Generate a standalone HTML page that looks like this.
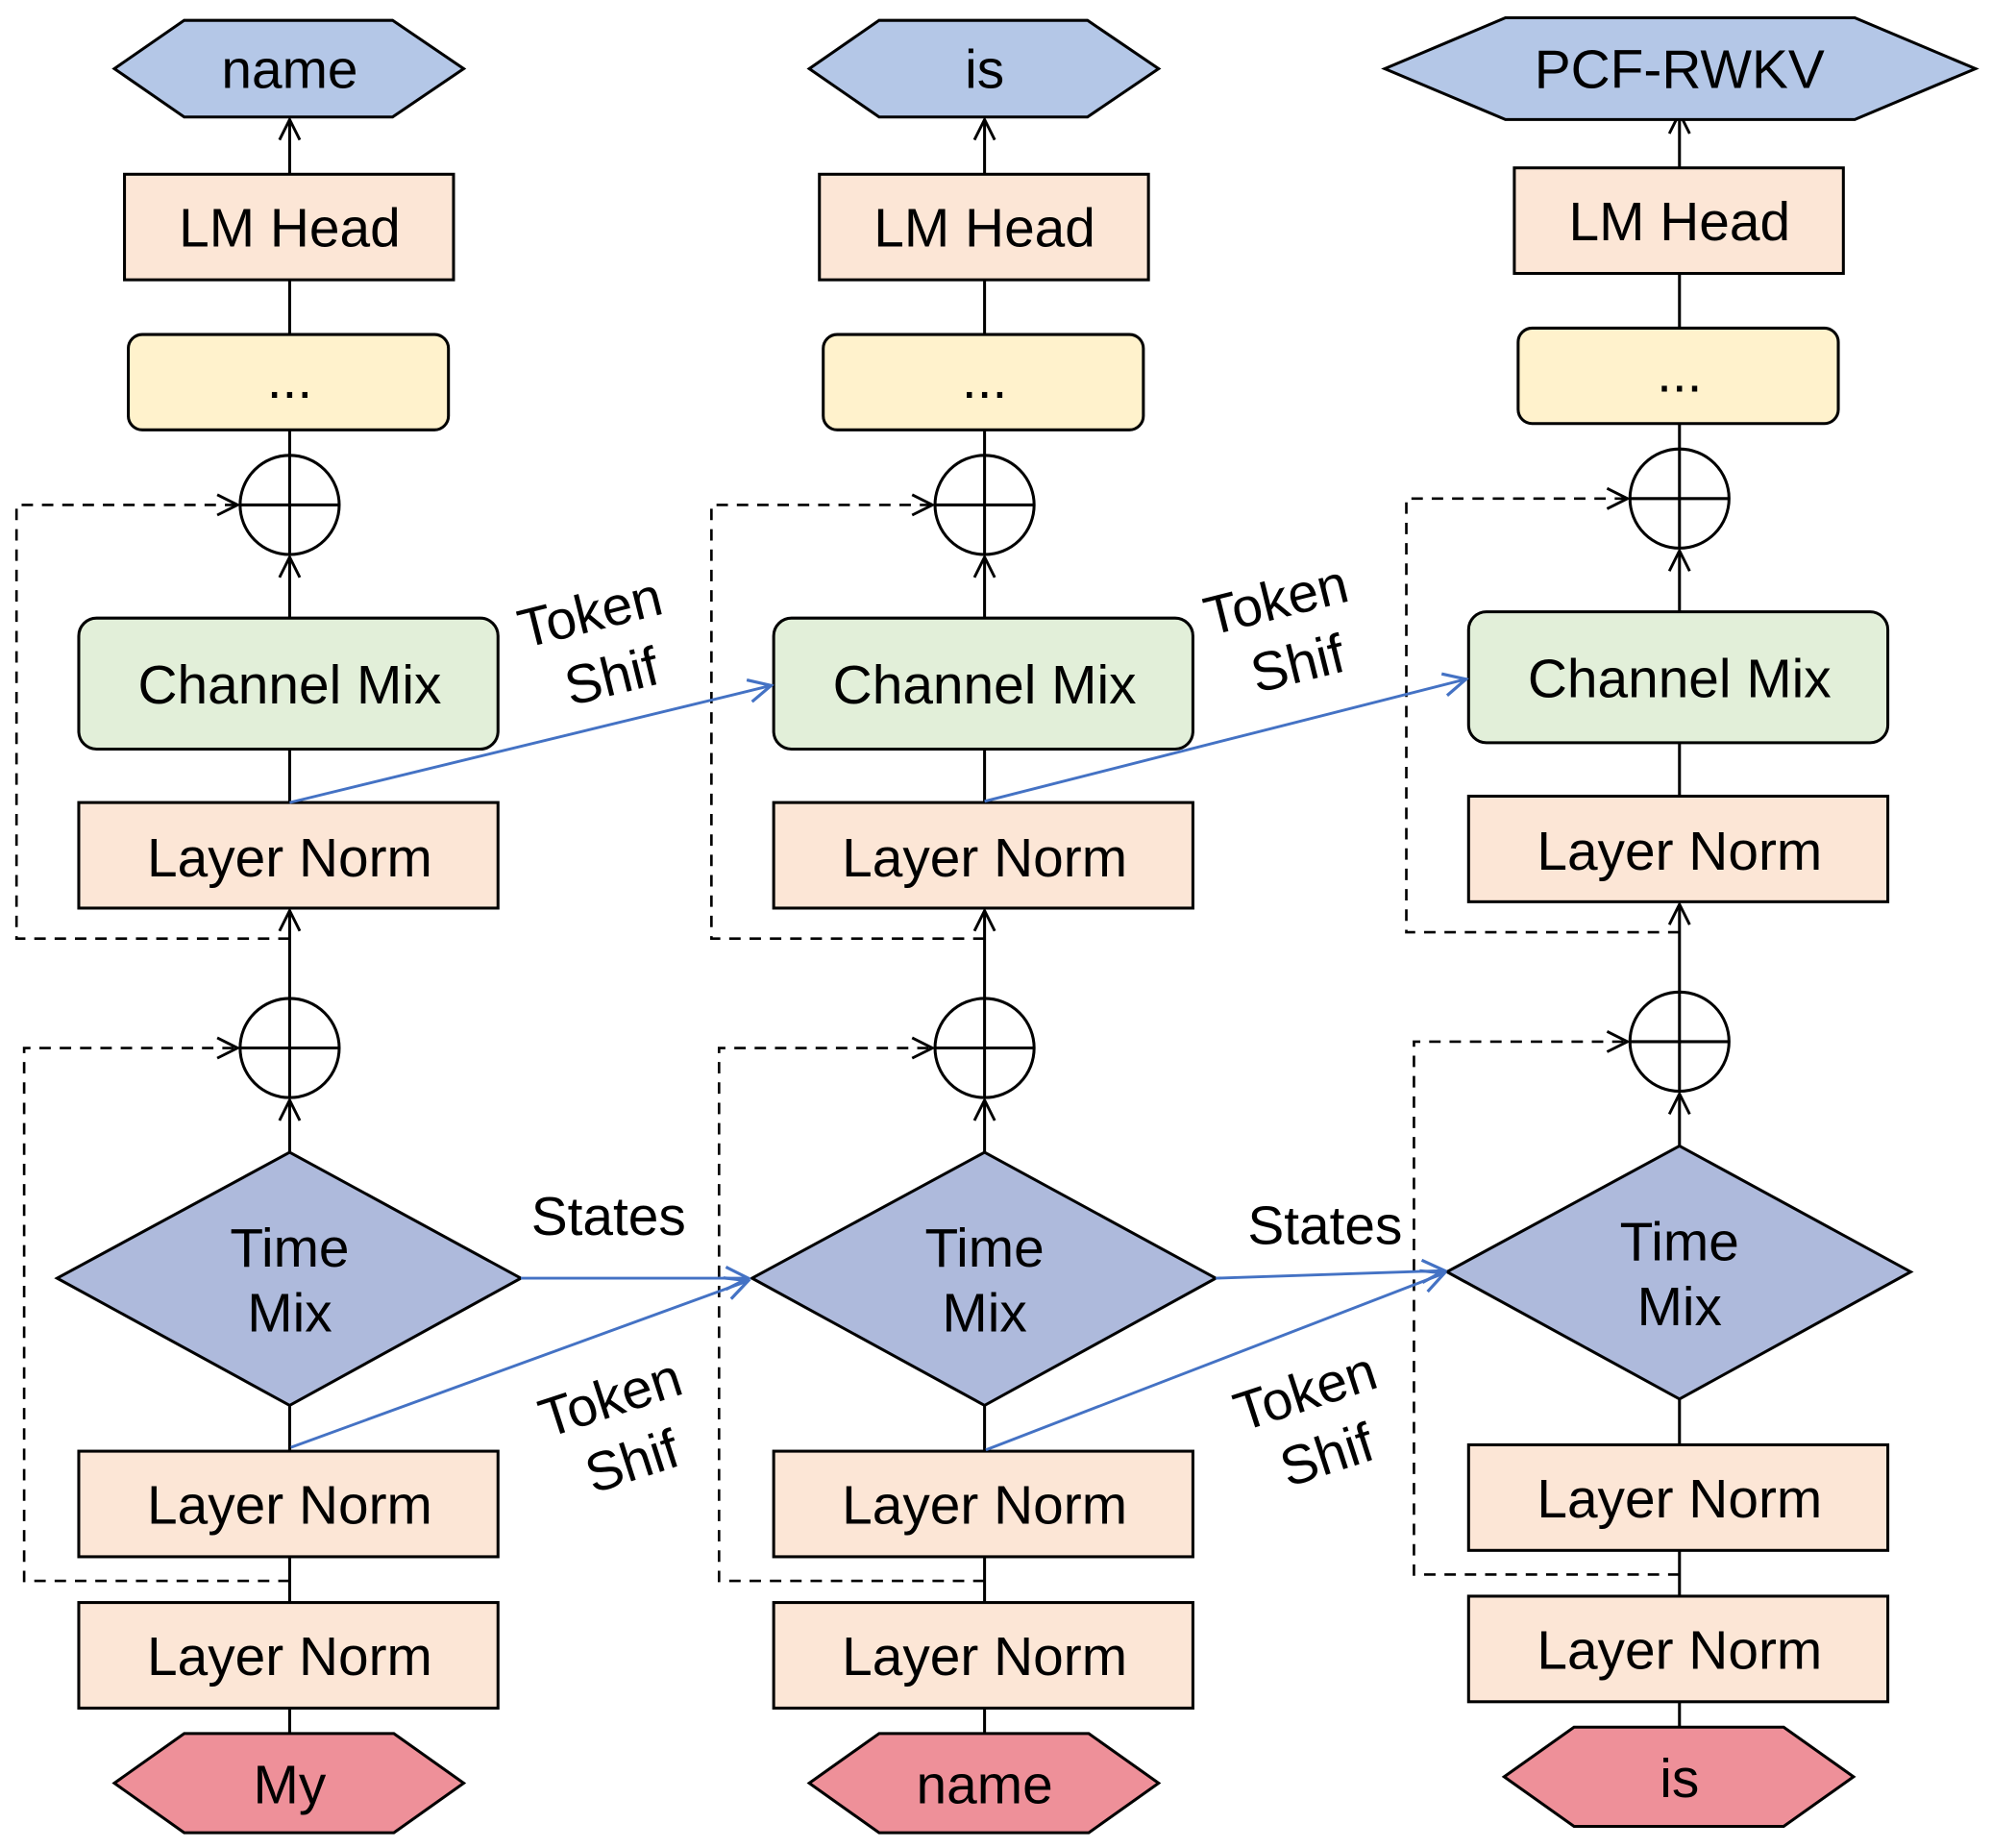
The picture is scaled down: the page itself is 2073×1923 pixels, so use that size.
<!DOCTYPE html>
<html><head><meta charset="utf-8"><style>
html,body{margin:0;padding:0;background:#fff;}
svg{display:block;}
text{font-family:"Liberation Sans",Arial,sans-serif;fill:#000;}
</style></head><body>
<svg width="2073" height="1923" viewBox="0 0 1568 1453" preserveAspectRatio="none" xmlns="http://www.w3.org/2000/svg">
<defs>
<marker id="a" viewBox="0 0 20 20" refX="18" refY="10" markerWidth="20" markerHeight="20" markerUnits="userSpaceOnUse" orient="auto">
<path d="M2,2 L18,10 L2,18" fill="none" stroke="#000" stroke-width="2.2"/></marker>
<marker id="b" viewBox="0 0 20 20" refX="18" refY="10" markerWidth="22" markerHeight="22" markerUnits="userSpaceOnUse" orient="auto">
<path d="M2,2 L18,10 L2,18" fill="none" stroke="#4472c4" stroke-width="2.2"/></marker>
<g id="col" stroke="#000" stroke-width="2.3">
<line x1="0" y1="137" x2="0" y2="94" marker-end="url(#a)"/>
<rect x="-130" y="137" width="259" height="83" fill="#fce6d6"/>
<line x1="0" y1="220" x2="0" y2="263"/>
<rect x="-127" y="263" width="252" height="75" rx="11" fill="#fff2cc"/>
<line x1="0" y1="338" x2="0" y2="436"/>
<circle cx="0" cy="397" r="39" fill="none"/>
<line x1="-39" y1="397" x2="39" y2="397"/>
<line x1="0" y1="486" x2="0" y2="438" marker-end="url(#a)"/>
<rect x="-166" y="486" width="330" height="103" rx="14" fill="#e2efd9"/>
<line x1="0" y1="589" x2="0" y2="631"/>
<rect x="-166" y="631" width="330" height="83" fill="#fce6d6"/>
<line x1="0" y1="785" x2="0" y2="716" marker-end="url(#a)"/>
<circle cx="0" cy="824" r="39" fill="none"/>
<line x1="0" y1="785" x2="0" y2="863"/>
<line x1="-39" y1="824" x2="39" y2="824"/>
<line x1="0" y1="906" x2="0" y2="865" marker-end="url(#a)"/>
<polygon points="-183,1005 0,906 182,1005 0,1105" fill="#aebadc"/>
<line x1="0" y1="1105" x2="0" y2="1141"/>
<rect x="-166" y="1141" width="330" height="83" fill="#fce6d6"/>
<line x1="0" y1="1224" x2="0" y2="1260"/>
<rect x="-166" y="1260" width="330" height="83" fill="#fce6d6"/>
<line x1="0" y1="1343" x2="0" y2="1363"/>
<g stroke-dasharray="9,7" fill="none" stroke-width="2">
<polyline points="0,738 -215,738 -215,397 -41,397" marker-end="url(#a)"/>
<polyline points="0,1243 -209,1243 -209,824 -41,824" marker-end="url(#a)"/>
</g>
</g>
<g id="txt" font-size="43" text-anchor="middle">
<text x="0" y="194">LM Head</text>
<text x="0" y="313">...</text>
<text x="0" y="553">Channel Mix</text>
<text x="0" y="689">Layer Norm</text>
<text x="0" y="996">Time</text>
<text x="0" y="1047">Mix</text>
<text x="0" y="1198">Layer Norm</text>
<text x="0" y="1317">Layer Norm</text>
</g>
</defs>

<g transform="translate(228,0)"><use href="#col"/><use href="#txt"/>
<polygon points="-138,54 -83,16 81,16 137,54 81,92 -83,92" fill="#b4c7e7" stroke="#000" stroke-width="2.3"/>
<text x="0" y="69" font-size="43" text-anchor="middle">name</text>
<polygon points="-138,1402 -83,1363 82,1363 137,1402 82,1441 -83,1441" fill="#ee9099" stroke="#000" stroke-width="2.3"/>
<text x="0" y="1418" font-size="43" text-anchor="middle">My</text>
</g>
<g transform="translate(775,0)"><use href="#col"/><use href="#txt"/>
<polygon points="-138,54 -83,16 81,16 137,54 81,92 -83,92" fill="#b4c7e7" stroke="#000" stroke-width="2.3"/>
<text x="0" y="69" font-size="43" text-anchor="middle">is</text>
<polygon points="-138,1402 -83,1363 82,1363 137,1402 82,1441 -83,1441" fill="#ee9099" stroke="#000" stroke-width="2.3"/>
<text x="0" y="1418" font-size="43" text-anchor="middle">name</text>
</g>
<g transform="translate(1322,-5)"><use href="#col"/><use href="#txt"/>
<polygon points="-232,59 -137,19 138,19 233,59 138,99 -137,99" fill="#b4c7e7" stroke="#000" stroke-width="2.3"/>
<text x="0" y="74" font-size="43" text-anchor="middle">PCF-RWKV</text>
<polygon points="-138,1402 -83,1363 82,1363 137,1402 82,1441 -83,1441" fill="#ee9099" stroke="#000" stroke-width="2.3"/>
<text x="0" y="1418" font-size="43" text-anchor="middle">is</text>
</g>

<g stroke="#4472c4" stroke-width="2.2" fill="none">
<line x1="228" y1="631" x2="607" y2="539" marker-end="url(#b)"/>
<line x1="775" y1="630" x2="1154" y2="534" marker-end="url(#b)"/>
<line x1="410" y1="1005" x2="589" y2="1005" marker-end="url(#b)"/>
<line x1="229" y1="1138" x2="589" y2="1007" marker-end="url(#b)"/>
<line x1="957" y1="1005" x2="1137" y2="999" marker-end="url(#b)"/>
<line x1="776" y1="1140" x2="1137" y2="1001" marker-end="url(#b)"/>
</g>

<g font-size="43" text-anchor="middle">
<text x="468" y="496" transform="rotate(-14 468 496)">Token</text>
<text x="485" y="546" transform="rotate(-14 485 546)">Shif</text>
<text x="1008" y="486" transform="rotate(-14 1008 486)">Token</text>
<text x="1025" y="536" transform="rotate(-14 1025 536)">Shif</text>
<text x="479" y="971">States</text>
<text x="1043" y="978">States</text>
<text x="485" y="1113" transform="rotate(-18 485 1113)">Token</text>
<text x="502" y="1163" transform="rotate(-18 502 1163)">Shif</text>
<text x="1032" y="1108" transform="rotate(-18 1032 1108)">Token</text>
<text x="1049" y="1158" transform="rotate(-18 1049 1158)">Shif</text>
</g>
</svg>
</body></html>
